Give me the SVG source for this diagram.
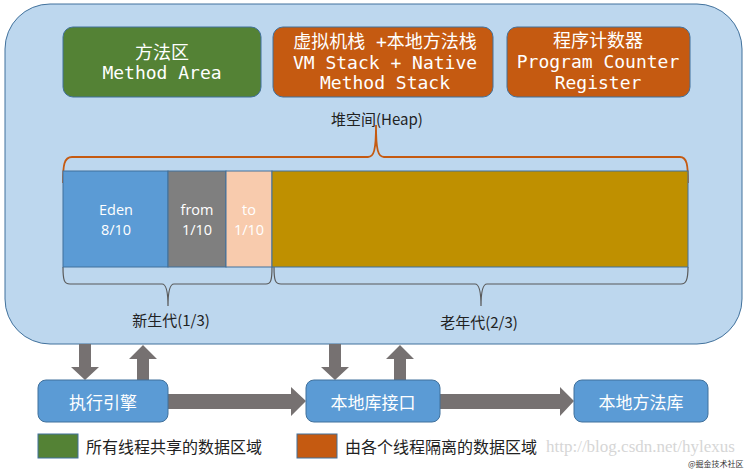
<svg xmlns="http://www.w3.org/2000/svg" width="747" height="470" viewBox="0 0 747 470">
<style>
.cjk{font-family:"Noto Sans CJK SC","Noto Sans",sans-serif}
.mono{font-family:"DejaVu Sans Mono","Noto Sans CJK SC",monospace;font-size:18px;fill:#fff;text-anchor:middle}
.bar{font-family:"Open Sans","Noto Sans",sans-serif;font-size:14.5px;fill:#fff;text-anchor:middle}
.lbl{font-family:"Noto Sans CJK SC",sans-serif;font-size:15px;fill:#222;text-anchor:middle}
.box{stroke:#41719C;stroke-width:1}
.bt{font-family:"Noto Sans CJK SC",sans-serif;font-size:17px;fill:#fff;text-anchor:middle}
.arr{fill:#767171}
</style>
<rect x="0" y="0" width="747" height="470" fill="#fff"/>
<g id="heap-container">
<rect x="5" y="4" width="737" height="340" rx="45" fill="#BDD7EE" stroke="#41719C" stroke-width="1"/>
</g>
<g id="method-area">
<rect class="box" x="63" y="27" width="198" height="70" rx="10" fill="#548235"/>
<text class="mono" x="162" y="59">方法区</text>
<text class="mono" x="162" y="79">Method Area</text>
</g>
<g id="vm-stack">
<rect class="box" x="273" y="27" width="220" height="70" rx="10" fill="#C55A11"/>
<text class="mono" x="385" y="48">虚拟机栈 +本地方法栈</text>
<text class="mono" x="385" y="69">VM Stack + Native</text>
<text class="mono" x="385" y="89">Method Stack</text>
</g>
<g id="pc-register">
<rect class="box" x="507" y="27" width="183" height="70" rx="10" fill="#C55A11"/>
<text class="mono" x="598" y="47">程序计数器</text>
<text class="mono" x="598" y="68">Program Counter</text>
<text class="mono" x="598" y="89">Register</text>
</g>
<text class="lbl" x="377" y="125">堆空间(Heap)</text>
<g id="connectors" fill="none">
<path d="M63,183 C63,165 64,157 72,157 L368,157 C374,157 376,150 376,125 C376,150 378,157 384,157 L680,157 C687,157 688,165 688,183" stroke="#C55A11" stroke-width="1.8"/>
<path d="M63,267 C63,280 64,284 70,284 L162,284 C166,284 168,290 168,306 C168,290 170,284 174,284 L266,284 C271,284 272,280 272,267" stroke="#595959" stroke-width="1.2"/>
<path d="M274,267 C274,280 275,284 281,284 L475,284 C479,284 481,290 481,306 C481,290 483,284 487,284 L681,284 C686,284 688,280 688,267" stroke="#595959" stroke-width="1.2"/>
<polygon class="arr" points="79,344 91,344 91,367 99,367 85,380 71,367 79,367"/>
<polygon class="arr" points="137,380 149,380 149,359 157,359 143,345 129,359 137,359"/>
<polygon class="arr" points="329,344 341,344 341,367 349,367 335,380 321,367 329,367"/>
<polygon class="arr" points="394,380 406,380 406,359 414,359 400,345 386,359 394,359"/>
<polygon class="arr" points="168,394 291,394 291,387 306,401 291,416 291,409 168,409"/>
<polygon class="arr" points="440,394 560,394 560,387 574,401 560,416 560,409 440,409"/>
</g>
<g id="eden">
<rect x="63" y="171" width="105" height="96" fill="#5B9BD5" stroke="#41719C" stroke-width="1"/>
<text class="bar" x="116" y="215">Eden</text>
<text class="bar" x="116" y="235">8/10</text>
</g>
<g id="from">
<rect x="168" y="171" width="58" height="96" fill="#7F7F7F" stroke="#41719C" stroke-width="1"/>
<text class="bar" x="197" y="215">from</text>
<text class="bar" x="197" y="235">1/10</text>
</g>
<g id="to">
<rect x="226" y="171" width="46" height="96" fill="#F8CBAD" stroke="#41719C" stroke-width="1"/>
<text class="bar" x="249" y="215">to</text>
<text class="bar" x="249" y="235">1/10</text>
</g>
<g id="old-gen">
<rect x="272" y="171" width="416" height="96" fill="#BF9000" stroke="#41719C" stroke-width="1"/>
</g>
<text class="lbl" x="171" y="326">新生代(1/3)</text>
<text class="lbl" x="479" y="328">老年代(2/3)</text>
<g id="exec-engine">
<rect class="box" x="38" y="380" width="130" height="42" rx="8" fill="#5B9BD5"/>
<text class="bt" x="103" y="409">执行引擎</text>
</g>
<g id="native-interface">
<rect class="box" x="306" y="380" width="134" height="42" rx="8" fill="#5B9BD5"/>
<text class="bt" x="373" y="409">本地库接口</text>
</g>
<g id="native-library">
<rect class="box" x="574" y="380" width="134" height="42" rx="8" fill="#5B9BD5"/>
<text class="bt" x="641" y="409">本地方法库</text>
</g>
<g id="legend">
<rect x="38" y="434" width="40" height="24" fill="#548235" stroke="#41719C" stroke-width="1"/>
<text class="cjk" x="86" y="453" font-size="16" fill="#222">所有线程共享的数据区域</text>
<rect x="297" y="434" width="40" height="24" fill="#C55A11" stroke="#41719C" stroke-width="1"/>
<text class="cjk" x="345" y="453" font-size="16" fill="#222">由各个线程隔离的数据区域</text>
</g>
<text x="546" y="452" font-family="'Liberation Serif',serif" font-size="17" fill="#d6d6d6">http://blog.csdn.net/hylexus</text>
<text x="688" y="467" font-family="'Noto Sans CJK SC',sans-serif" font-size="8" fill="#333">@掘金技术社区</text>
</svg>
